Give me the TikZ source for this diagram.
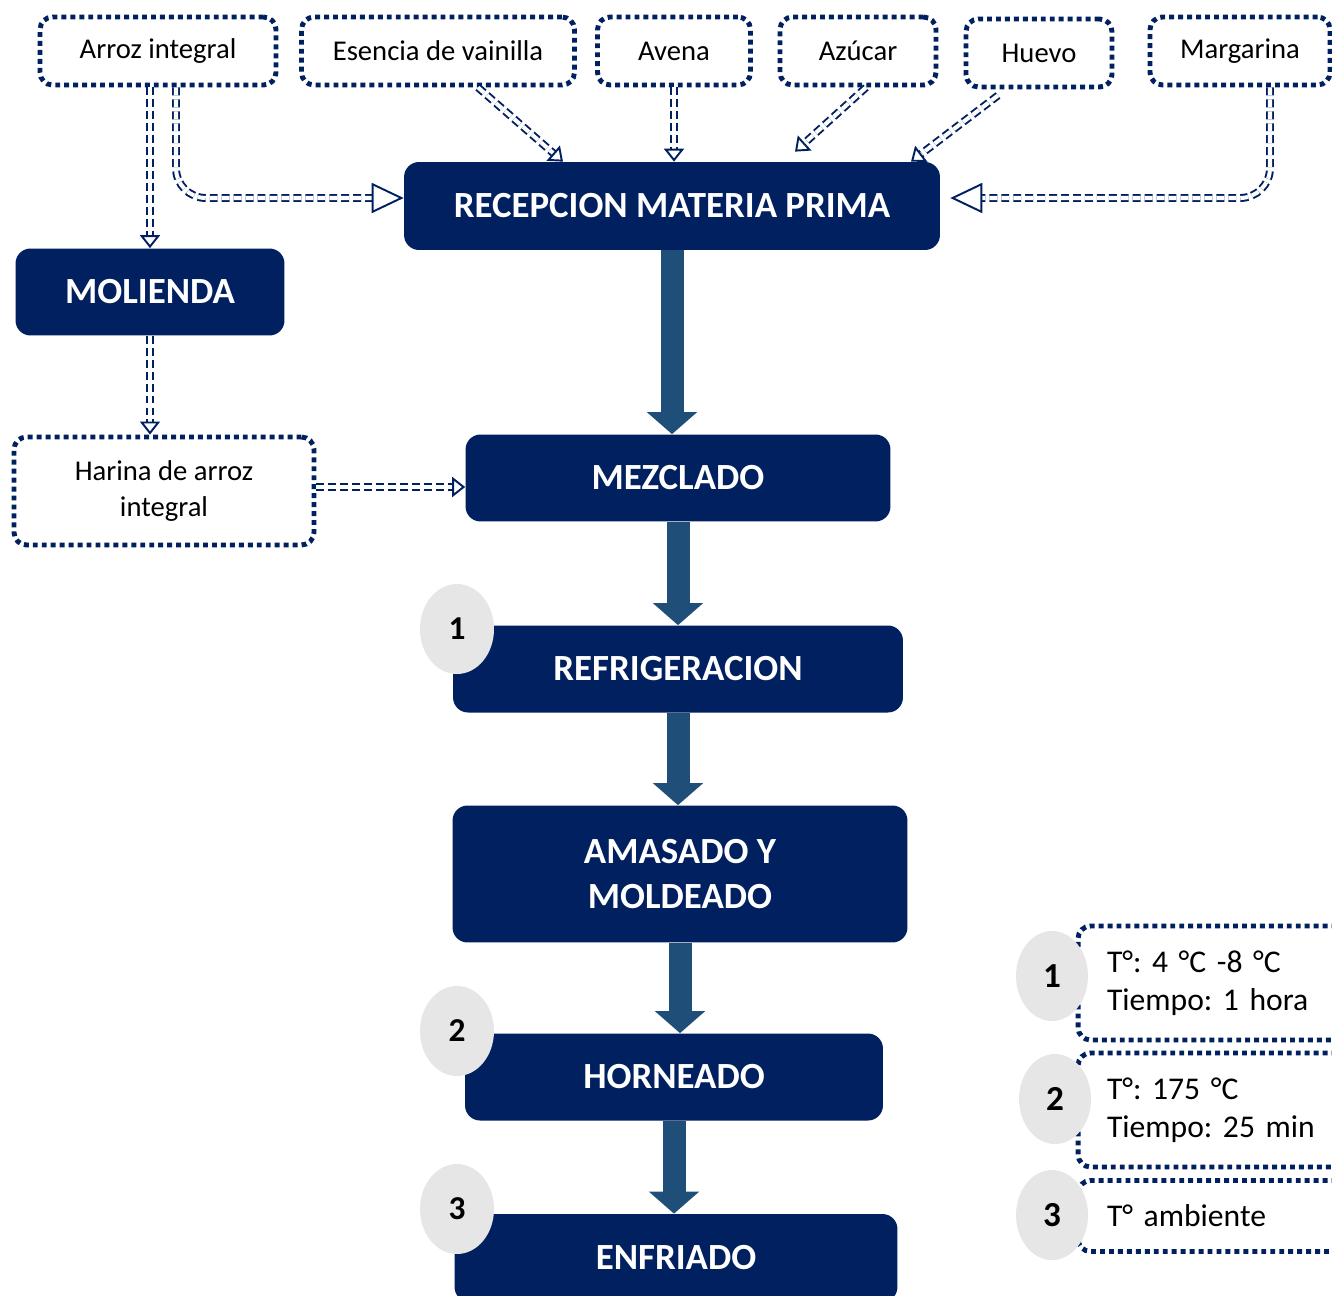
\documentclass[tikz,border=0pt]{standalone}
\usepackage{fontspec}
\setmainfont{Carlito}
\usepackage{tikz}
\usetikzlibrary{positioning,
  calc,
  arrows.meta,
  shapes.geometric}
\usepackage{xcolor}
\frenchspacing

\definecolor{azulosc}{RGB}{0,32,96}
\definecolor{azulflecha}{RGB}{31,78,121}
\definecolor{grisclaro}{RGB}{231,230,230}

\tikzset{
  proceso/.style={fill=azulosc, rounded corners=0.3cm, text=white, align=center,
    inner sep=0pt, font=\fontsize{21}{26}\selectfont\bfseries},
  insumo/.style={draw=azulosc, fill=white, line width=2.8pt, dash pattern=on 2.8pt off 2.3pt,
    rounded corners=0.25cm, align=center, inner sep=0pt, minimum height=1.36cm,
    font=\fontsize{16.3}{20}\selectfont},
  nota/.style={insumo, align=left, inner xsep=0.58cm, text width=4.44cm,
    font=\fontsize{18}{21.5}\selectfont},
  paso/.style={ellipse, fill=grisclaro, inner sep=0pt, minimum width=1.48cm,
    minimum height=1.8cm, font=\fontsize{19}{22}\selectfont\bfseries},
  flecha/.style={azulflecha, line width=0.46cm, -{Triangle[length=0.44cm, width=0.98cm]}},
  entrada/.style={draw=azulosc, line width=1.1pt, double=white, double distance=2.3pt,
    dash pattern=on 4.5pt off 2.3pt,
    -{Triangle[open, length=0.26cm, width=0.4cm, line width=1.1pt]}},
  entrada grande/.style={entrada, rounded corners=0.6cm,
    -{Triangle[open, length=0.64cm, width=0.6cm, line width=1.1pt]}}
}

\begin{document}
\begin{tikzpicture}[x=0.02cm, y=-0.02cm]
  \useasboundingbox (0,0) rectangle (1332,1295);

  % Materias primas
  \node[insumo, minimum width=4.72cm] (arroz) at (158,51) {Arroz integral};
  \node[insumo, minimum width=5.46cm] (esencia) at (438,51) {Esencia de vainilla};
  \node[insumo, minimum width=3.06cm] (avena) at (674,51) {Avena};
  \node[insumo, minimum width=3.12cm] (azucar) at (858,51) {Azúcar};
  \node[insumo, minimum width=2.92cm] (huevo) at (1039,53) {Huevo};
  \node[insumo, minimum width=3.6cm] (margarina) at (1240,51) {Margarina};

  % Proceso
  \node[proceso, minimum width=10.72cm, minimum height=1.76cm] (recep) at (672,206) {RECEPCION MATERIA PRIMA};
  \node[proceso, minimum width=5.38cm, minimum height=1.74cm] (molienda) at (150,292) {MOLIENDA};
  \node[insumo, minimum width=6cm, minimum height=2.16cm] (harina) at (164,491) {Harina de arroz\\integral};
  \node[proceso, minimum width=8.5cm, minimum height=1.74cm] (mezclado) at (678,478) {MEZCLADO};
  \node[proceso, minimum width=9cm, minimum height=1.74cm] (refrig) at (678,669) {REFRIGERACION};
  \node[proceso, minimum width=9.1cm, minimum height=2.74cm] (amasado) at (680,874) {AMASADO Y\\MOLDEADO};
  \node[proceso, minimum width=8.36cm, minimum height=1.74cm] (horneado) at (674,1077) {HORNEADO};
  \node[proceso, minimum width=8.86cm, minimum height=1.76cm] (enfriado) at (676,1258) {ENFRIADO};

  % Entradas
  \coordinate (hsal) at ($(harina.east)+(0,-4)$);
  \draw[entrada] (arroz.south -| molienda.north) -- (molienda.north);
  \draw[entrada grande] ($(arroz.south)+(18,0)$) |- ($(recep.west)+(0,-8)$);
  \draw[entrada] ($(esencia.south)+(40,0)$) -- ($(recep.north)+(-109,0)$);
  \draw[entrada] (avena.south) -- (avena.south |- recep.north);
  \draw[entrada] ($(azucar.south)+(8,0)$) -- ($(recep.north)+(123,-10)$);
  \draw[entrada] ($(huevo.south)+(-41,6)$) -- ($(recep.north)+(239,0)$);
  \draw[entrada grande] ($(margarina.south)+(30,0)$) |- ($(recep.east)+(10,-8)$);
  \draw[entrada] (molienda.south) -- (molienda.south |- harina.north);
  \draw[entrada] (hsal) -- (hsal -| mezclado.west);

  % Flechas del proceso
  \draw[flecha] (recep.south) -- (recep.south |- mezclado.north);
  \draw[flecha] (mezclado.south) -- (refrig.north);
  \draw[flecha] (refrig.south) -- (refrig.south |- amasado.north);
  \draw[flecha] (amasado.south) -- (amasado.south |- horneado.north);
  \draw[flecha] (horneado.south) -- (horneado.south |- enfriado.north);

  % Condiciones
  \node[nota, minimum width=5.6cm, minimum height=2.28cm] (cond1) at (1218,983) {T°: 4 °C -8 °C\\Tiempo: 1 hora};
  \node[nota, minimum width=5.6cm, minimum height=2.28cm] (cond2) at (1218,1110) {T°: 175 °C\\Tiempo: 25 min};
  \node[nota, minimum width=5.6cm, minimum height=1.42cm] (cond3) at (1218,1216) {T° ambiente};

  % Numeros
  \node[paso] (p1) at (457,629) {1};
  \node[paso] (p2) at (457,1031) {2};
  \node[paso] (p3) at (457,1209) {3};
  \node[paso, minimum width=1.44cm, font=\fontsize{20}{24}\selectfont\bfseries] (n1) at (1052,976) {1};
  \node[paso, minimum width=1.44cm, font=\fontsize{20}{24}\selectfont\bfseries] (n2) at (1055,1099) {2};
  \node[paso, minimum width=1.44cm, font=\fontsize{20}{24}\selectfont\bfseries] (n3) at (1052,1215) {3};
\end{tikzpicture}
\end{document}
